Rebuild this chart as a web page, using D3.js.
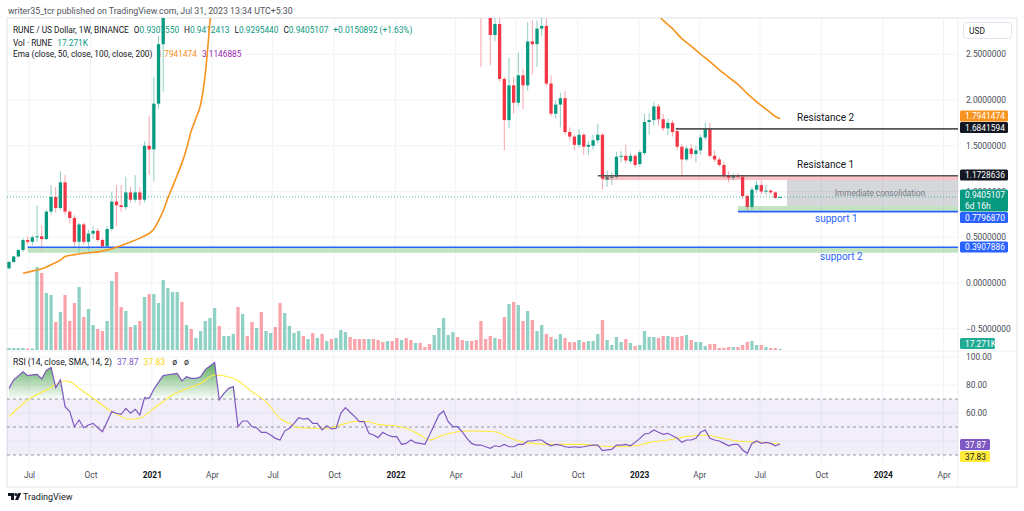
<!DOCTYPE html>
<html><head><meta charset="utf-8">
<script src="https://cdn.jsdelivr.net/npm/d3@7"></script>
<style>
body{margin:0;background:#fff;}
svg{display:block;font-family:Roboto,"Liberation Sans",sans-serif;}
</style></head>
<body><svg id="c" width="1024" height="511"></svg>
<script>
// ---------------- DATA ----------------
const firstWeek = Date.UTC(2020,5,1);   // weekly bars, Mondays
// [open, high, low, close]
const candles = [
[0.16,0.24,0.15,0.23],[0.23,0.30,0.22,0.29],[0.29,0.37,0.28,0.36],[0.36,0.49,0.34,0.47],
[0.47,0.51,0.42,0.45],[0.45,0.52,0.41,0.50],[0.50,0.85,0.45,0.51],[0.51,0.63,0.36,0.48],
[0.48,0.80,0.47,0.78],[0.78,1.07,0.75,0.94],[0.94,1.05,0.77,0.82],[0.82,1.22,0.80,1.10],
[1.10,1.18,0.74,0.78],[0.78,0.80,0.65,0.71],[0.71,0.74,0.40,0.45],[0.45,0.66,0.33,0.64],
[0.64,0.66,0.42,0.45],[0.45,0.58,0.33,0.54],[0.54,0.62,0.48,0.57],[0.57,0.60,0.45,0.47],
[0.47,0.49,0.38,0.40],[0.40,0.62,0.39,0.59],[0.59,1.00,0.57,0.89],[0.89,1.07,0.62,0.85],
[0.85,1.07,0.78,0.83],[0.83,1.16,0.80,0.99],[0.99,1.05,0.88,0.91],[0.91,1.18,0.88,0.99],
[0.99,1.05,0.85,0.91],[0.91,1.55,0.88,1.50],[1.50,1.82,1.18,1.46],[1.46,2.25,1.11,1.96],
[1.96,2.70,1.90,2.61],[2.61,3.60,2.09,3.40],
[3.4,4.3,3.2,4.0],[4.0,5.2,3.8,5.0],[5.0,6.6,4.6,6.2],[6.2,6.5,4.4,5.1],[5.1,6.0,4.5,5.8],
[5.8,6.2,5.0,5.3],[5.3,6.2,5.1,6.0],[6.0,7.6,5.8,7.4],[7.4,9.5,7.0,9.0],[9.0,11.5,8.5,10.8],
[10.8,15.0,10.2,14.2],[14.2,15.5,10.0,11.6],[11.6,14.0,11.0,13.5],[13.5,16.5,12.8,16.0],
[16.0,20.8,15.0,19.5],[19.5,20.0,9.0,11.5],[11.5,13.5,6.5,12.0],[12.0,12.5,7.8,8.5],
[8.5,9.5,6.8,7.2],[7.2,8.8,6.5,8.0],[8.0,8.6,5.2,5.6],[5.6,6.8,4.0,6.2],[6.2,7.0,5.6,6.5],
[6.5,6.8,4.8,5.2],[5.2,5.5,3.1,3.9],[3.9,5.6,3.6,5.4],[5.4,6.2,5.0,6.0],[6.0,7.4,5.6,7.2],
[7.2,9.0,6.8,8.7],[8.7,9.2,7.6,8.0],[8.0,11.0,7.8,10.5],[10.5,11.2,9.0,9.5],[9.5,12.5,9.2,12.0],
[12.0,12.5,9.5,10.0],[10.0,10.8,8.5,10.4],[10.4,10.9,8.0,8.6],[8.6,10.5,8.2,10.0],
[10.0,12.0,9.6,11.6],[11.6,14.0,11.0,13.2],[13.2,13.8,10.8,11.5],[11.5,12.0,10.2,10.8],
[10.8,11.5,9.6,10.0],[10.0,10.5,8.9,9.3],[9.3,11.2,9.0,10.8],[10.8,11.0,8.8,9.4],
[9.4,9.8,7.0,7.6],[7.6,8.0,6.0,6.6],[6.6,8.5,6.4,8.0],[8.0,8.6,6.8,7.1],[7.1,7.4,5.6,6.0],
[6.0,6.7,5.2,6.4],[6.4,6.6,4.9,5.1],[5.1,5.3,3.5,3.9],[3.9,4.6,3.6,4.4],[4.4,4.7,4.0,4.2],
[4.2,4.5,3.9,4.0],[4.0,4.2,3.3,3.6],[3.6,4.5,3.4,4.3],[4.3,5.8,4.2,5.6],[5.6,8.5,5.4,8.2],
[8.2,10.0,7.8,9.6],[9.6,11.0,9.0,10.5],[10.5,11.2,8.6,9.0],[9.0,9.5,7.8,8.2],[8.2,8.9,7.4,8.5],
[8.5,8.8,6.0,6.4],[6.4,6.7,4.8,5.0],
[5.0,5.3,2.36,4.0],[4.0,4.6,3.1,3.4],[3.4,3.6,2.38,2.71],[2.71,2.90,2.64,2.83],
[2.83,2.92,2.20,2.23],[2.23,2.25,1.45,1.78],[1.78,2.46,1.69,2.16],[2.16,2.25,1.85,1.97],
[1.97,2.52,1.93,2.27],[2.27,2.34,1.90,2.16],[2.16,2.85,2.10,2.64],[2.64,2.87,2.28,2.61],
[2.61,2.87,2.36,2.78],[2.78,2.95,2.70,2.81],[2.81,2.90,2.15,2.18],[2.18,2.27,1.82,1.85],
[1.85,2.00,1.80,1.95],[1.95,2.08,1.70,2.02],[2.02,2.10,1.62,1.65],[1.65,1.70,1.55,1.60],
[1.60,1.62,1.45,1.51],[1.51,1.68,1.48,1.62],[1.62,1.64,1.40,1.49],[1.49,1.55,1.40,1.51],
[1.50,1.62,1.46,1.56],[1.56,1.74,1.53,1.62],[1.62,1.64,1.02,1.14],[1.13,1.23,1.05,1.16],
[1.15,1.21,1.07,1.16],[1.16,1.43,1.14,1.38],[1.38,1.44,1.32,1.39],[1.39,1.51,1.31,1.34],
[1.33,1.42,1.30,1.39],[1.39,1.41,1.26,1.29],[1.30,1.45,1.27,1.43],[1.42,1.85,1.40,1.76],
[1.76,1.86,1.62,1.78],[1.78,1.98,1.72,1.93],[1.93,1.96,1.72,1.79],[1.79,1.85,1.66,1.69],
[1.69,1.80,1.62,1.75],[1.75,1.78,1.60,1.65],[1.66,1.70,1.45,1.49],[1.49,1.52,1.18,1.35],
[1.35,1.50,1.33,1.47],[1.47,1.52,1.36,1.41],[1.41,1.50,1.32,1.45],[1.45,1.62,1.40,1.59],
[1.59,1.75,1.56,1.69],[1.69,1.75,1.37,1.39],[1.39,1.45,1.32,1.35],[1.35,1.38,1.27,1.29],
[1.29,1.32,1.15,1.18],[1.18,1.22,1.10,1.15],[1.15,1.20,1.12,1.18],[1.18,1.20,1.14,1.16],
[1.16,1.18,0.92,0.95],[0.95,0.97,0.78,0.83],[0.83,1.05,0.80,1.02],[1.02,1.12,0.98,1.07],
[1.07,1.12,0.97,1.00],[1.00,1.07,0.96,1.01],[1.01,1.02,0.97,0.99],[0.99,1.00,0.92,0.93],
[0.9307550,0.9412413,0.9295440,0.9405107]
];
// weekly volume, millions of RUNE
const volumes = [
0.2,0.2,0.2,0.2,0.15,0.15,8.3,7.7,5.7,5.5,2.8,3.8,5.5,2.9,4.7,6.3,3.3,4.1,2.5,2.1,
1.9,2.9,6.9,7.8,4.3,3.9,2.3,2.5,2.9,5.3,5.6,5.6,4.7,7.0,6.2,5.8,5.8,4.8,2.5,2.1,
1.2,1.9,2.9,3.2,4.2,2.4,1.4,1.4,1.6,4.3,3.6,1.4,2.8,2.2,3.8,1.9,1.7,2.3,4.7,3.7,
2.4,1.7,1.9,1.4,1.1,1.7,1.2,1.6,0.9,1.1,1.2,2.0,1.8,1.3,1.1,1.1,1.1,1.1,1.1,1.0,
0.8,0.9,0.9,1.2,1.0,1.2,1.0,0.7,0.7,0.3,0.6,1.5,2.2,3.2,1.5,1.8,1.3,1.0,0.9,0.9,
1.0,2.9,1.1,1.4,1.2,1.1,3.3,4.6,4.8,4.5,2.9,3.9,3.0,1.9,2.5,1.6,1.3,1.1,1.6,1.2,
0.8,0.8,1.0,0.8,0.9,0.9,1.6,3.0,1.0,0.5,1.3,0.8,1.1,0.7,0.4,0.5,1.9,1.3,1.3,1.2,
1.4,1.4,1.3,1.3,1.4,1.5,1.0,0.8,0.8,0.4,0.6,0.6,0.2,0.2,0.3,0.3,0.3,0.5,0.8,0.9,
0.5,0.5,0.3,0.2,0.2,0.017271
];
// EMA 50 of close: [bar index, value]
const ema50 = [
[3,0.106],[5,0.13],[7,0.155],[9,0.20],[11,0.25],[12,0.29],[14,0.31],[17,0.33],[19,0.34],[21,0.36],
[23,0.39],[25,0.43],[28,0.49],[31,0.59],[32,0.68],[33,0.79],[34,0.93],[35,1.05],[36,1.18],[37,1.31],
[38,1.47],[39,1.66],[40,1.80],[41,1.95],[42,2.28],[43,2.85],[44,3.4],[45,4.0],[47,5.0],[50,6.3],
[55,7.2],[60,7.6],[65,8.0],[70,8.6],[75,9.1],[80,9.0],[85,8.4],[90,7.5],[95,7.0],[100,6.6],
[105,5.6],[110,4.7],[115,4.1],[120,3.6],[125,3.3],[130,3.15],[135,3.06],[138,2.98],[140,2.87],
[142,2.78],[144,2.67],[146,2.59],[148,2.50],[150,2.42],[152,2.33],[154,2.25],[156,2.17],[158,2.07],
[160,1.98],[162,1.90],[164,1.82],[165,1.7941474]
];
// RSI(14) per weekly bar
const rsi = [
77.6,83.6,86.5,89.5,86.7,87.2,87.6,84.3,90.5,92.6,78.1,83.6,64.5,61,50.2,55,49.5,51.4,52.6,49.5,
46.6,53.8,61,59.8,59,63.3,59.8,62.6,58.6,70.9,70.5,77,82,86.7,87.3,87.8,88.3,82.9,85.9,84.8,
84.8,85.9,91,93.5,96.2,69.3,74,77.6,78.8,50.2,54.3,54.3,50.2,49.5,46.2,46.2,44.3,41.9,40.7,47.1,
49.1,52.6,56.6,55.7,56.2,52.6,52.6,47.9,50.9,48.6,49.1,59.8,63.8,60.5,57.4,53.8,53.8,45.5,44.3,42.4,
46.2,44.3,43.1,43.1,37.6,38.3,40.7,38.8,38.3,37.6,44.3,51.4,58.6,61.4,53.8,50.2,50.2,46.6,41.9,38.3,
37.1,37.1,35.9,34.8,36.6,35.9,37.6,35.9,35.9,37.6,37.6,40,40,40.7,40.7,38.3,36.6,37.6,37.1,35.9,
35.5,35.9,35.5,35.9,36.6,37.1,37.1,33.1,33.6,34.0,37.1,37.1,37.6,36.6,39,41.9,45,45.5,47.9,46.2,
44.8,45.5,43.8,41.9,39,40.7,40.7,41.9,46.2,47.9,41.9,40.7,40,38.3,36.6,37.6,37.6,33.6,31.2,38.3,
40,38.3,39,38.3,36.6,37.87
];
// SMA(14) of RSI: [bar index, value]
const rsiMA = [
[0,57.4],[4,69.3],[8,76.4],[12,82.9],[13,82.4],[15,77.6],[18,70.5],[22,61],[26,55.5],[28,56.2],
[31,63.3],[35,72.9],[41,81.2],[44,87.1],[48,84.8],[52,75.2],[55,68.1],[58,56.2],[60,52.6],[62,49.5],
[67,49.1],[69,49.5],[72,52.6],[75,54.3],[77,53.8],[79,51.9],[83,50.7],[85,49.1],[88,44.3],[90,40.7],
[93,44.3],[96,46.6],[99,47.1],[104,46.6],[107,42.5],[109,40],[112,38.3],[116,37.6],[123,37.6],[126,36.6],
[130,35.9],[134,36.6],[137,39],[141,40.7],[145,43.1],[149,44.3],[152,42.4],[156,40],[161,39],[165,37.83]
];
const priceTicks = [2.5,2.0,1.5,1.0,0.5,0.0,-0.5];
const rsiGrid = [100,80,60,40];
const rsiTickLabels = [100,80,60];
const rsiLevels = [70,50,30];
const timeTicks = [[2020,6],[2020,9],[2021,0],[2021,3],[2021,6],[2021,9],[2022,0],[2022,3],[2022,6],[2022,9],[2023,0],[2023,3],[2023,6],[2023,9],[2024,0],[2024,3]];
const timeLabels = ["Jul","Oct","2021","Apr","Jul","Oct","2022","Apr","Jul","Oct","2023","Apr","Jul","Oct","2024","Apr"];
// drawing levels
const resistance2 = {level:1.6841594, from:143, label:"Resistance 2"};
const resistance1 = {level:1.1728636, bandLow:1.125, from:127, label:"Resistance 1"};
const consolidation = {top:1.125, bottom:0.84, from:166.5, label:"Immediate consolidation"};
const support1 = {level:0.7796870, bandTop:0.84, from:156, label:"support 1"};
const support2 = {level:0.3907886, bandLow:0.33, from:4, label:"support 2"};
const lastClose = 0.9405107, lastVolLabel = "17.271K", emaVals = ["1.7941474","3.1146885"];
const rsiLast = ["37.87","37.83"];

// ---------------- LAYOUT ----------------
const L=7, R=958, mainTop=18, mainBot=350, rsiTop=351, rsiBot=461, frameBot=487;
const up="#089981", dn="#f23645";
const svg = d3.select("#c");
const x = d3.scaleUtc().domain([new Date(firstWeek), new Date(Date.UTC(2023,6,31))]).range([9,780]);
const dateOf = i => new Date(firstWeek + i*7*864e5);
const y = d3.scaleLinear().domain([0,2.5]).range([283,54.25]);
const yv = d3.scaleLinear().domain([0,8.4]).range([mainBot,266]);
const yr = d3.scaleLinear().domain([30,80]).range([455,385]);

const defs = svg.append("defs");
defs.append("clipPath").attr("id","cm").append("rect").attr("x",L).attr("y",mainTop).attr("width",R-L).attr("height",mainBot-mainTop);
defs.append("clipPath").attr("id","cr").append("rect").attr("x",L).attr("y",rsiTop).attr("width",R-L).attr("height",rsiBot-rsiTop);
const gr = defs.append("linearGradient").attr("id","ob").attr("gradientUnits","userSpaceOnUse")
  .attr("x1",0).attr("x2",0).attr("y1",yr(97)).attr("y2",yr(70));
gr.append("stop").attr("offset",0).attr("stop-color","#43a047").attr("stop-opacity",0.9);
gr.append("stop").attr("offset",1).attr("stop-color","#43a047").attr("stop-opacity",0.02);

svg.append("rect").attr("width",1024).attr("height",511).attr("fill","#fff");

// header
svg.append("text").attr("x",8).attr("y",14).attr("font-size",8.8).attr("fill","#50535e")
  .text("writer35_tcr published on TradingView.com, Jul 31, 2023 13:34 UTC+5:30");

// frame
svg.append("rect").attr("x",L).attr("y",mainTop).attr("width",1017-L).attr("height",frameBot-mainTop)
  .attr("fill","none").attr("stroke","#e0e3eb");
svg.append("line").attr("x1",R).attr("x2",R).attr("y1",mainTop).attr("y2",frameBot).attr("stroke","#eef0f4");
svg.append("line").attr("x1",L).attr("x2",1017).attr("y1",rsiTop).attr("y2",rsiTop).attr("stroke","#eef0f4");

// grid
const tickDates = timeTicks.map(d=>new Date(Date.UTC(d[0],d[1],1)));
svg.append("g").selectAll("line").data(tickDates).join("line")
  .attr("x1",d=>x(d)).attr("x2",d=>x(d)).attr("y1",mainTop).attr("y2",rsiBot).attr("stroke","#f1f3f7");
svg.append("g").selectAll("line").data(priceTicks).join("line")
  .attr("x1",L).attr("x2",R).attr("y1",d=>y(d)).attr("y2",d=>y(d)).attr("stroke","#f1f3f7");
svg.append("g").selectAll("line").data(rsiGrid).join("line")
  .attr("x1",L).attr("x2",R).attr("y1",d=>yr(d)).attr("y2",d=>yr(d)).attr("stroke","#f1f3f7");

// RSI pane background band + levels
const gR = svg.append("g").attr("clip-path","url(#cr)");
gR.append("rect").attr("x",L).attr("width",R-L).attr("y",yr(70)).attr("height",yr(30)-yr(70)).attr("fill","rgba(126,87,194,0.1)");
gR.selectAll("line.lv").data(rsiLevels).join("line").attr("class","lv")
  .attr("x1",L).attr("x2",R).attr("y1",d=>yr(d)).attr("y2",d=>yr(d))
  .attr("stroke","#9598a1").attr("stroke-dasharray","3,3");
const rsiPts = rsi.map((v,i)=>({d:dateOf(i),v}));
gR.append("path").datum(rsiPts)
  .attr("d",d3.area().x(p=>x(p.d)).y0(yr(70)).y1(p=>yr(Math.max(p.v,70))))
  .attr("fill","url(#ob)");
gR.append("path").datum(rsiMA)
  .attr("d",d3.line().x(p=>x(dateOf(p[0]))).y(p=>yr(p[1])).curve(d3.curveMonotoneX))
  .attr("fill","none").attr("stroke","#ffeb3b").attr("stroke-width",1.1);
gR.append("path").datum(rsiPts)
  .attr("d",d3.line().x(p=>x(p.d)).y(p=>yr(p.v)))
  .attr("fill","none").attr("stroke","#7e57c2").attr("stroke-width",1.2);

// legends (under candles)
function legendLine(yy, parts, fs){
  const t = svg.append("text").attr("x",13).attr("y",yy).attr("font-size",fs||8.3);
  parts.forEach(p=>t.append("tspan").attr("fill",p[1]).attr("dx",p[2]||0).text(p[0]));
}
const cd = candles.map((r,i)=>({i,d:dateOf(i),o:r[0],h:r[1],l:r[2],c:r[3],v:volumes[i]}));
const last = cd[cd.length-1];
const f7 = d3.format(".7f");
const G="#131722";
legendLine(33,[["RUNE / US Dollar, 1W, BINANCE",G],["O",G,5],[f7(last.o),up],["H",G,5],[f7(last.h),up],["L",G,5],[f7(last.l),up],["C",G,5],[f7(last.c),up],["+0.0150892 (+1.63%)",up,5]]);
legendLine(45.5,[["Vol · RUNE",G],[lastVolLabel,up,5]]);
legendLine(57,[["Ema (close, 50, close, 100, close, 200)",G],[emaVals[0],"#f7931e",5],[emaVals[1],"#9c27b0",5]]);
legendLine(365,[["RSI (14, close, SMA, 14, 2)",G],[rsiLast[0],"#7e57c2",5],[rsiLast[1],"#f5d90a",5],["ø",G,7],["ø",G,7]],8.6);

// main pane content
const gM = svg.append("g").attr("clip-path","url(#cm)");
const bw = 3.3;
gM.selectAll("rect.vol").data(cd).join("rect").attr("class","vol")
  .attr("x",d=>x(d.d)-bw/2).attr("width",bw)
  .attr("y",d=>Math.min(yv(d.v),mainBot-1)).attr("height",d=>Math.max(1,mainBot-yv(d.v)))
  .attr("fill",d=>d.c>=d.o?"rgba(8,153,129,0.45)":"rgba(242,54,69,0.45)");

// drawings: bands
gM.append("rect").attr("x",x(dateOf(support2.from))).attr("width",R-x(dateOf(support2.from)))
  .attr("y",y(support2.level)).attr("height",y(support2.bandLow)-y(support2.level)).attr("fill","rgba(76,175,80,0.35)");

// candles
gM.selectAll("line.wick").data(cd).join("line").attr("class","wick")
  .attr("x1",d=>x(d.d)).attr("x2",d=>x(d.d)).attr("y1",d=>y(d.h)).attr("y2",d=>y(d.l))
  .attr("stroke",d=>d.c>=d.o?"#8fcfc3":"#f6a5ab").attr("stroke-width",1);
gM.selectAll("rect.body").data(cd).join("rect").attr("class","body")
  .attr("x",d=>x(d.d)-bw/2).attr("width",bw)
  .attr("y",d=>y(Math.max(d.o,d.c))).attr("height",d=>Math.max(1,Math.abs(y(d.o)-y(d.c))))
  .attr("fill",d=>d.c>=d.o?up:dn);

// drawings over candles
const xs = i=>x(dateOf(i));
gM.append("rect").attr("x",xs(resistance1.from)).attr("width",R-xs(resistance1.from))
  .attr("y",y(resistance1.level)).attr("height",y(resistance1.bandLow)-y(resistance1.level)).attr("fill","rgba(242,54,69,0.3)");
gM.append("rect").attr("x",xs(consolidation.from)).attr("width",R-xs(consolidation.from))
  .attr("y",y(consolidation.top)).attr("height",y(consolidation.bottom)-y(consolidation.top)).attr("fill","rgba(120,123,134,0.3)");
gM.append("rect").attr("x",xs(support1.from)).attr("width",R-xs(support1.from))
  .attr("y",y(support1.bandTop)).attr("height",y(support1.level)-y(support1.bandTop)).attr("fill","rgba(76,175,80,0.35)");
gM.append("line").attr("x1",xs(resistance2.from-0.3)).attr("x2",R).attr("y1",y(resistance2.level)).attr("y2",y(resistance2.level)).attr("stroke","#555").attr("stroke-width",1.6);
gM.append("line").attr("x1",xs(resistance1.from-1)).attr("x2",R).attr("y1",y(resistance1.level)).attr("y2",y(resistance1.level)).attr("stroke","#555").attr("stroke-width",1.6);
gM.append("line").attr("x1",xs(support1.from)).attr("x2",R).attr("y1",y(support1.level)).attr("y2",y(support1.level)).attr("stroke","#2962ff").attr("stroke-width",1.6);
gM.append("line").attr("x1",xs(support2.from)).attr("x2",R).attr("y1",y(support2.level)).attr("y2",y(support2.level)).attr("stroke","#2962ff").attr("stroke-width",1.6);
gM.append("line").attr("x1",L).attr("x2",R).attr("y1",y(lastClose)).attr("y2",y(lastClose)).attr("stroke",up).attr("stroke-dasharray","1,2").attr("opacity",0.7);

// EMA
gM.append("path").datum(ema50)
  .attr("d",d3.line().x(p=>x(dateOf(p[0]))).y(p=>y(p[1])).curve(d3.curveMonotoneX))
  .attr("fill","none").attr("stroke","#f7931e").attr("stroke-width",1.6);

// drawing texts
const tx = (t,xx,yy,col,fs,anchor)=>svg.append("text").attr("x",xx).attr("y",yy).attr("fill",col).attr("font-size",fs).attr("text-anchor",anchor||"start").text(t);
tx(resistance2.label,797,y(resistance2.level)-8,G,10);
tx(resistance1.label,797,y(resistance1.level)-8,G,10);
tx(consolidation.label,880,y((consolidation.top+consolidation.bottom)/2)+3,"#787b86",8.2,"middle");
tx(support1.label,815,y(support1.level)+10,"#2962ff",10);
tx(support2.label,820,y(support2.level)+13,"#2962ff",10);

// axes
const ax = svg.append("g").attr("transform",`translate(${R},0)`)
  .call(d3.axisRight(y).tickValues(priceTicks).tickFormat(f7).tickSize(0).tickPadding(8));
const axr = svg.append("g").attr("transform",`translate(${R},0)`)
  .call(d3.axisRight(yr).tickValues(rsiTickLabels).tickFormat(d3.format(".2f")).tickSize(0).tickPadding(8));
const axt = svg.append("g").attr("transform",`translate(0,470)`)
  .call(d3.axisBottom(x).tickValues(tickDates).tickFormat((d,i)=>timeLabels[i]).tickSize(0).tickPadding(2));
[ax,axr,axt].forEach(a=>{a.select(".domain").remove();a.selectAll("text").attr("font-size",8.4).attr("fill","#4a4d57").attr("font-family","Roboto, sans-serif");});
axt.selectAll("text").attr("font-weight",(d,i)=>/^\d{4}$/.test(timeLabels[i])?"bold":"normal").attr("fill",(d,i)=>/^\d{4}$/.test(timeLabels[i])?G:"#4a4d57");

// USD box
svg.append("rect").attr("x",963.5).attr("y",22.5).attr("width",48).attr("height",16).attr("rx",3).attr("fill","#fff").attr("stroke","#e0e3eb");
tx("USD",969,33.5,G,8.4);

// price labels
function plabel(txt, top, bg, fg, w, h, txt2){
  const hh = h||11;
  svg.append("rect").attr("x",960).attr("y",top).attr("width",w||48).attr("height",hh).attr("rx",1.5).attr("fill",bg);
  if(txt2){
    tx(txt,965,top+8.6,fg,8.4); tx(txt2,965,top+19,fg,8.4);
  } else tx(txt,965,top+8.6,fg,8.4);
}
plabel(emaVals[0], 110.5, "#f7931e", "#fff");
plabel(f7(resistance2.level), 122, "#131722", "#fff");
plabel(f7(resistance1.level), 169.5, "#131722", "#fff");
plabel(f7(lastClose), 189.5, up, "#fff", 48, 22, "6d 16h");
plabel(f7(support1.level), 212, "#2962ff", "#fff");
plabel(f7(support2.level), 241.5, "#2962ff", "#fff");
plabel(lastVolLabel, 338, "#22ab94", "#fff", 35);
plabel(rsiLast[0], 439, "#7e57c2", "#fff", 30);
plabel(rsiLast[1], 451, "#ffeb3b", G, 30);

// TradingView logo
const lg = svg.append("g").attr("transform","translate(8,493)");
lg.append("path").attr("d","M0 0h6v7h-3v-4h-3z").attr("fill",G);
lg.append("circle").attr("cx",7.8).attr("cy",1.6).attr("r",1.5).attr("fill",G);
lg.append("path").attr("d","M10 0h3.2l-3 7h-3.2z").attr("fill",G);
tx("TradingView",23,500,G,9);
</script></body></html>
